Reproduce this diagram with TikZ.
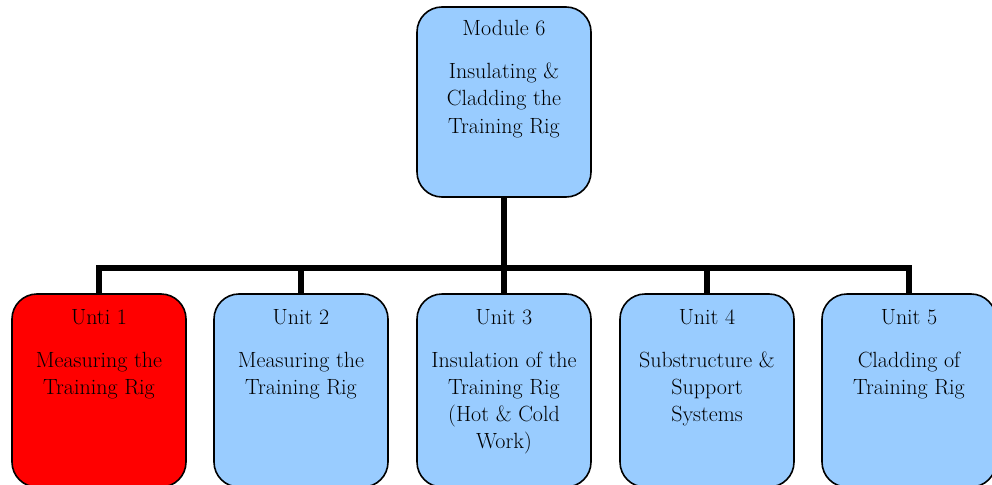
\documentclass[tikz,border=0pt]{standalone}
\definecolor{boxblue}{HTML}{99CCFF}
\definecolor{boxred}{HTML}{FF0000}
\tikzset{
  unitbox/.style={draw=black, line width=1.6pt, rounded corners=25pt, fill=boxblue,
    inner sep=0pt, minimum width=174pt, minimum height=190pt},
  lowbox/.style={unitbox, minimum height=193pt},
  redbox/.style={lowbox, fill=boxred},
  link/.style={line width=5.5pt},
}
\newcommand\boxtxt[2]{\parbox[c][190pt][t]{172pt}{\centering\fontsize{22}{27}\selectfont\rule{0pt}{28.5pt}#1\\[16.5pt]#2}}
\begin{document}
\begin{tikzpicture}[x=1pt,y=1pt]
\useasboundingbox (0,0) rectangle (992,-484);
\clip (0,0) rectangle (992,-484);
\node[unitbox] (m6) at (504,-102) {\boxtxt{Module 6}{Insulating \&\\Cladding the\\Training Rig}};
\node[redbox]  (u1) at (99,-390.5)  {\boxtxt{Unti 1}{Measuring the\\Training Rig}};
\node[lowbox] (u2) at (301,-390.5) {\boxtxt{Unit 2}{Measuring the\\Training Rig}};
\node[lowbox] (u3) at (504,-390.5) {\boxtxt{Unit 3}{Insulation of the\\Training Rig\\(Hot \& Cold\\Work)}};
\node[lowbox] (u4) at (707,-390.5) {\boxtxt{Unit 4}{Substructure \&\\Support\\Systems}};
\node[lowbox] (u5) at (909,-390.5) {\boxtxt{Unit 5}{Cladding of\\Training Rig}};
\coordinate (bar) at (0,-268);
\draw[link] (m6.south) -- (m6.south |- bar);
\draw[link] (u1.north) -- (u1.north |- bar) -- (u5.north |- bar) -- (u5.north);
\draw[link] (u2.north |- bar) -- (u2.north);
\draw[link] (u3.north |- bar) -- (u3.north);
\draw[link] (u4.north |- bar) -- (u4.north);
\end{tikzpicture}
\end{document}
